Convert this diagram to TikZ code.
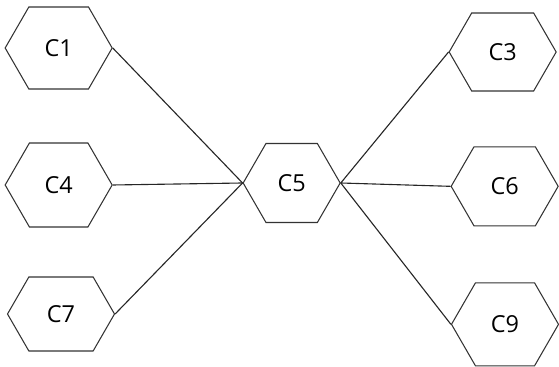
\documentclass[tikz,border=0pt]{standalone}
\usepackage{fontspec}
\setmainfont{Open Sans}
\usepackage{tikz}
\usetikzlibrary{shapes.symbols}

\tikzset{
  hexa/.style={shape=signal, signal to=east and west, signal pointer angle=120,
               draw=black!80, line width=0.9pt, minimum width=3.21cm, inner sep=0pt,
               font=\fontsize{20}{24}\selectfont},
  link/.style={draw=black!85, line width=0.95pt}
}

\begin{document}
\begin{tikzpicture}[scale=1.0]
  \useasboundingbox (0,0) rectangle (16.77,11.01);
  \foreach \n/\x/\y/\h in {1/1.76/9.57/2.46, 4/1.76/5.46/2.52, 7/1.83/1.59/2.22,
                           3/15.08/9.45/2.34, 6/15.14/5.42/2.37, 9/15.15/1.28/2.49}
    { \node[hexa, minimum height=\h cm] (c\n) at (\x,\y) {C\n}; }
  \node[hexa, minimum width=2.91cm, minimum height=2.37cm] (c5) at (8.75,5.52) {C5};
  \foreach \n in {1,4,7}
    { \draw[link] (c\n.0) -- (c5.180); }
  \foreach \n in {3,6,9}
    { \draw[link] (c5.0) -- (c\n.180); }
\end{tikzpicture}
\end{document}
